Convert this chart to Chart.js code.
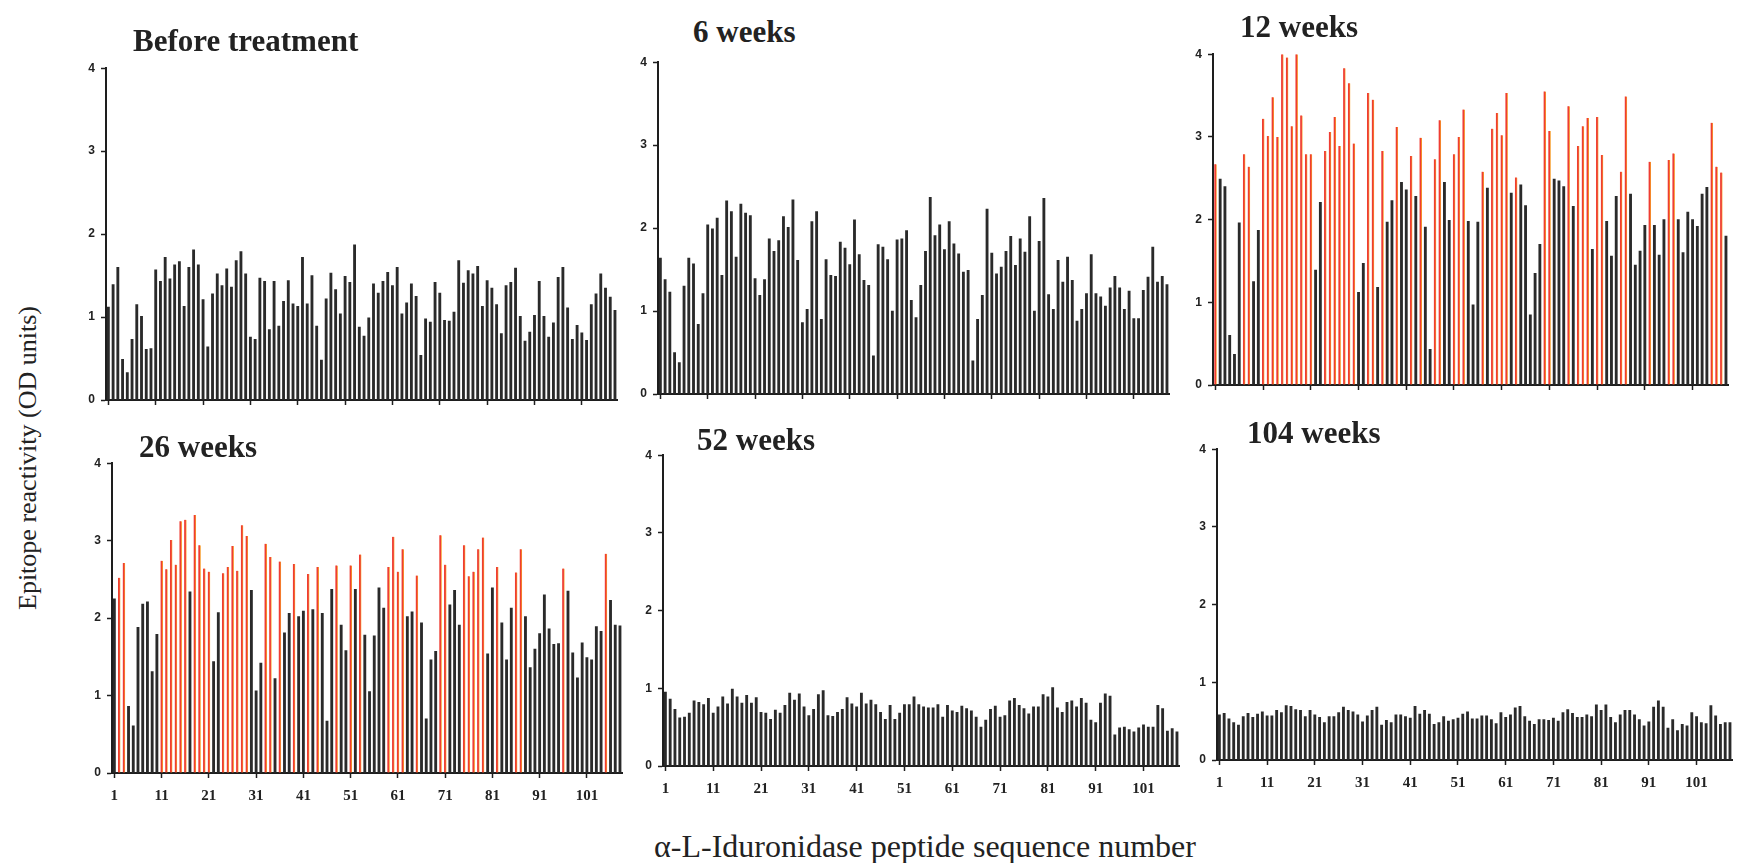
<!DOCTYPE html>
<html>
<head>
<meta charset="utf-8">
<title>Epitope reactivity</title>
<script src="https://cdn.jsdelivr.net/npm/chart.js@4.4.1/dist/chart.umd.min.js"></script>
<style>
  html, body { margin: 0; padding: 0; background: #fff; }
  body { width: 1738px; height: 863px; position: relative; overflow: hidden; font-family: "Liberation Serif", serif; color: #222; }
  canvas { position: absolute; }
  .title { position: absolute; font-weight: bold; font-size: 31px; line-height: 1; white-space: nowrap; }
  #ylab { position: absolute; left: 28px; top: 458px; font-size: 26px; white-space: nowrap;
          transform: translate(-50%, -50%) rotate(-90deg); }
  #xlab { position: absolute; left: 925px; top: 846px; font-size: 32px; white-space: nowrap;
          transform: translate(-50%, -50%); }
</style>
</head>
<body>
<canvas id="c0"></canvas><canvas id="c1"></canvas><canvas id="c2"></canvas>
<canvas id="c3"></canvas><canvas id="c4"></canvas><canvas id="c5"></canvas>
<div class="title" style="left:133px; top:25px;">Before treatment</div>
<div class="title" style="left:693px; top:16px;">6 weeks</div>
<div class="title" style="left:1240px; top:11px;">12 weeks</div>
<div class="title" style="left:139px; top:431px;">26 weeks</div>
<div class="title" style="left:697px; top:424px;">52 weeks</div>
<div class="title" style="left:1247px; top:417px;">104 weeks</div>
<div id="ylab">Epitope reactivity (OD units)</div>
<div id="xlab">α-L-Iduronidase peptide sequence number</div>
<script>
// peptide numbers 1..108 along every x axis
const peptides = Array.from({ length: 108 }, (_, i) => String(i + 1));

const beforeTreatment = [
  1.12, 1.39, 1.60, 0.49, 0.33, 0.73, 1.15, 1.01, 0.61, 0.62,
  1.57, 1.43, 1.72, 1.46, 1.63, 1.67, 1.13, 1.60, 1.81, 1.63,
  1.21, 0.64, 1.28, 1.52, 1.38, 1.58, 1.36, 1.68, 1.79, 1.52,
  0.76, 0.73, 1.47, 1.43, 0.85, 1.43, 0.89, 1.19, 1.44, 1.16,
  1.13, 1.72, 1.16, 1.50, 0.89, 0.48, 1.22, 1.53, 1.33, 1.04,
  1.49, 1.42, 1.87, 0.88, 0.77, 0.99, 1.40, 1.29, 1.43, 1.54,
  1.38, 1.60, 1.04, 1.17, 1.40, 1.25, 0.54, 0.98, 0.94, 1.42,
  1.29, 0.96, 0.95, 1.06, 1.68, 1.41, 1.56, 1.52, 1.61, 1.13,
  1.44, 1.35, 1.15, 0.80, 1.38, 1.42, 1.59, 1.01, 0.71, 0.82,
  1.02, 1.43, 1.01, 0.76, 0.93, 1.48, 1.60, 1.11, 0.73, 0.90,
  0.81, 0.72, 1.15, 1.28, 1.52, 1.35, 1.24, 1.08
];

const week6 = [
  1.64, 1.38, 1.23, 0.50, 0.38, 1.30, 1.64, 1.57, 0.84, 1.21,
  2.04, 1.99, 2.12, 1.43, 2.33, 2.20, 1.65, 2.29, 2.18, 2.15,
  1.39, 1.19, 1.38, 1.87, 1.72, 1.85, 2.14, 2.01, 2.34, 1.61,
  0.86, 1.02, 2.08, 2.20, 0.90, 1.62, 1.43, 1.42, 1.83, 1.76,
  1.56, 2.10, 1.68, 1.37, 1.31, 0.46, 1.80, 1.77, 1.62, 1.00,
  1.86, 1.87, 1.97, 1.13, 0.92, 1.31, 1.72, 2.37, 1.91, 2.04,
  1.74, 2.08, 1.81, 1.69, 1.47, 1.49, 0.40, 0.90, 1.19, 2.23,
  1.70, 1.45, 1.53, 1.72, 1.90, 1.55, 1.87, 1.71, 2.14, 1.00,
  1.84, 2.36, 1.20, 1.02, 1.61, 1.35, 1.65, 1.37, 0.88, 1.02,
  1.21, 1.68, 1.21, 1.17, 1.06, 1.28, 1.42, 1.28, 1.02, 1.24,
  0.91, 0.91, 1.25, 1.41, 1.77, 1.35, 1.42, 1.32
];

const week12 = [
  2.67, 2.49, 2.40, 0.60, 0.37, 1.96, 2.79, 2.64, 1.25, 1.87,
  3.22, 3.01, 3.48, 3.00, 4.00, 3.96, 3.13, 4.00, 3.26, 2.79,
  2.79, 1.39, 2.21, 2.83, 3.06, 3.24, 2.89, 3.83, 3.65, 2.92,
  1.12, 1.47, 3.53, 3.45, 1.18, 2.83, 1.97, 2.23, 3.12, 2.45,
  2.36, 2.77, 2.28, 2.99, 1.91, 0.43, 2.73, 3.20, 2.45, 1.99,
  2.79, 3.00, 3.33, 1.98, 0.97, 1.97, 2.58, 2.38, 3.10, 3.29,
  3.02, 3.53, 2.32, 2.51, 2.42, 2.17, 0.85, 1.35, 1.70, 3.55,
  3.07, 2.49, 2.47, 2.40, 3.37, 2.16, 2.89, 3.13, 3.23, 1.64,
  3.24, 2.78, 1.98, 1.56, 2.28, 2.58, 3.49, 2.31, 1.45, 1.62,
  1.93, 2.70, 1.93, 1.57, 2.00, 2.72, 2.80, 2.00, 1.60, 2.09,
  2.00, 1.92, 2.31, 2.39, 3.17, 2.64, 2.57, 1.80
];
// peptides above the reactivity cut-off (drawn in red)
const week12Reactive = [1, 7, 8, 11, 12, 13, 14, 15, 16, 17, 18, 19, 20, 21, 24, 25, 26, 27, 28, 29, 30,
  33, 34, 36, 39, 42, 44, 47, 48, 51, 52, 53, 57, 59, 60, 61, 62, 64, 70, 71, 75, 77, 78, 79,
  81, 82, 86, 87, 92, 96, 97, 105, 106, 107];

const week26 = [
  2.25, 2.52, 2.71, 0.86, 0.61, 1.88, 2.18, 2.21, 1.31, 1.79,
  2.74, 2.63, 3.01, 2.69, 3.25, 3.27, 2.34, 3.33, 2.94, 2.64,
  2.60, 1.44, 2.07, 2.58, 2.66, 2.93, 2.61, 3.20, 3.06, 2.36,
  1.06, 1.42, 2.96, 2.79, 1.22, 2.73, 1.81, 2.06, 2.70, 2.02,
  2.09, 2.57, 2.11, 2.66, 2.06, 0.67, 2.37, 2.68, 1.91, 1.58,
  2.68, 2.37, 2.82, 1.78, 1.05, 1.77, 2.39, 2.13, 2.66, 3.05,
  2.60, 2.89, 2.02, 2.08, 2.55, 1.94, 0.70, 1.46, 1.57, 3.07,
  2.69, 2.17, 2.36, 1.91, 2.94, 2.54, 2.60, 2.89, 3.04, 1.54,
  2.39, 2.66, 1.94, 1.46, 2.13, 2.59, 2.89, 2.02, 1.36, 1.60,
  1.80, 2.30, 1.86, 1.66, 1.67, 2.64, 2.35, 1.55, 1.23, 1.68,
  1.49, 1.46, 1.89, 1.83, 2.83, 2.23, 1.91, 1.90
];
const week26Reactive = [2, 3, 11, 12, 13, 14, 15, 16, 18, 19, 20, 21, 24, 25, 26, 27, 28, 29,
  33, 34, 36, 39, 42, 44, 48, 51, 53, 59, 60, 61, 62, 65, 70, 71, 75, 76, 77, 78, 79,
  82, 86, 87, 96, 105];

const week52 = [
  0.95, 0.86, 0.73, 0.62, 0.63, 0.68, 0.84, 0.82, 0.79, 0.87,
  0.68, 0.76, 0.89, 0.80, 0.99, 0.89, 0.81, 0.91, 0.81, 0.88,
  0.69, 0.68, 0.60, 0.72, 0.68, 0.78, 0.94, 0.85, 0.93, 0.76,
  0.65, 0.73, 0.92, 0.97, 0.65, 0.64, 0.69, 0.73, 0.88, 0.80,
  0.76, 0.94, 0.80, 0.85, 0.79, 0.69, 0.60, 0.78, 0.60, 0.68,
  0.79, 0.79, 0.89, 0.79, 0.76, 0.75, 0.75, 0.79, 0.63, 0.78,
  0.71, 0.69, 0.77, 0.74, 0.71, 0.63, 0.50, 0.59, 0.73, 0.77,
  0.63, 0.65, 0.84, 0.87, 0.78, 0.74, 0.67, 0.76, 0.76, 0.92,
  0.89, 1.01, 0.75, 0.69, 0.82, 0.84, 0.76, 0.87, 0.81, 0.59,
  0.56, 0.81, 0.93, 0.90, 0.40, 0.49, 0.50, 0.47, 0.44, 0.49,
  0.53, 0.50, 0.50, 0.78, 0.74, 0.45, 0.48, 0.44
];

const week104 = [
  0.58, 0.60, 0.53, 0.48, 0.45, 0.56, 0.60, 0.55, 0.59, 0.62,
  0.57, 0.57, 0.64, 0.61, 0.70, 0.69, 0.65, 0.64, 0.56, 0.64,
  0.58, 0.55, 0.48, 0.56, 0.56, 0.61, 0.68, 0.64, 0.62, 0.58,
  0.49, 0.57, 0.64, 0.68, 0.45, 0.51, 0.48, 0.58, 0.58, 0.56,
  0.54, 0.69, 0.59, 0.64, 0.59, 0.46, 0.48, 0.56, 0.50, 0.52,
  0.54, 0.59, 0.62, 0.53, 0.53, 0.57, 0.57, 0.52, 0.47, 0.61,
  0.55, 0.58, 0.67, 0.69, 0.56, 0.50, 0.46, 0.52, 0.52, 0.51,
  0.54, 0.50, 0.61, 0.65, 0.60, 0.55, 0.55, 0.58, 0.56, 0.71,
  0.64, 0.71, 0.55, 0.48, 0.58, 0.64, 0.64, 0.58, 0.52, 0.44,
  0.49, 0.68, 0.76, 0.68, 0.41, 0.52, 0.38, 0.46, 0.44, 0.61,
  0.56, 0.48, 0.47, 0.70, 0.57, 0.46, 0.48, 0.48
];

const yTicks = [0, 1, 2, 3, 4];

const BLACK = '#2a2a2a';
const RED = '#ef3d33';
const ORANGE = '#f6a02a';
const INK = '#1e1e1e';

// plot area of each panel on the page: left, top, right, bottom (y = 4 at top, y = 0 at bottom)
const panels = [
  { id: 'c0', values: beforeTreatment, reactive: [], box: [105.6, 66.7, 617.2, 400.0], labels: false },
  { id: 'c1', values: week6, reactive: [], box: [658.3, 60.7, 1169.8, 393.3], labels: false },
  { id: 'c2', values: week12, reactive: week12Reactive, box: [1212.6, 53.3, 1728.5, 385.7], labels: false },
  { id: 'c3', values: week26, reactive: week26Reactive, box: [111.9, 462.3, 623.2, 773.3], labels: true },
  { id: 'c4', values: week52, reactive: [], box: [663.3, 454.3, 1180.2, 766.7], labels: true },
  { id: 'c5', values: week104, reactive: [], box: [1216.9, 448.3, 1732.5, 760.0], labels: true }
];

const AXIS_W = 40, AXIS_H = 45, PAD_T = 12, PAD_R = 6;

function drawPanel(p) {
  const [l, t, r, b] = p.box;
  const cv = document.getElementById(p.id);
  const w = Math.round(r - l), h = Math.round(b - t);
  const cw = w + AXIS_W + PAD_R, ch = h + PAD_T + AXIS_H;
  cv.width = cw; cv.height = ch;
  cv.style.width = cw + 'px'; cv.style.height = ch + 'px';
  cv.style.left = Math.round(l - AXIS_W) + 'px';
  cv.style.top = Math.round(t - PAD_T) + 'px';

  const hot = p.values.map((v, i) => p.reactive.includes(i + 1));

  new Chart(cv, {
    type: 'bar',
    data: {
      labels: peptides,
      datasets: [{
        data: p.values,
        backgroundColor: hot.map(x => x ? RED : BLACK),
        borderColor: hot.map(x => x ? ORANGE : BLACK),
        borderWidth: hot.map(x => x ? { right: 0.8 } : 0),
        barThickness: 2.2
      }]
    },
    options: {
      responsive: false,
      animation: false,
      layout: { padding: { top: PAD_T, right: PAD_R, left: 0, bottom: 0 } },
      plugins: { legend: { display: false }, tooltip: { enabled: false } },
      scales: {
        x: {
          offset: true,
          border: { display: true, color: INK, width: 2 },
          grid: {
            drawOnChartArea: false, offset: false, tickLength: 5, tickWidth: 1.5,
            tickColor: c => (c.index % 10 === 0 ? INK : 'rgba(0,0,0,0)')
          },
          ticks: {
            autoSkip: false, maxRotation: 0, minRotation: 0, padding: 9, color: '#222',
            font: { family: 'Liberation Serif', weight: 'bold', size: 15 },
            callback: (v, i) => (p.labels && i % 10 === 0 ? peptides[i] : '')
          },
          afterFit: s => { s.height = AXIS_H; }
        },
        y: {
          min: yTicks[0], max: yTicks[yTicks.length - 1],
          border: { display: true, color: INK, width: 2 },
          grid: { drawOnChartArea: false, tickLength: 5, tickWidth: 1.5, tickColor: INK },
          afterBuildTicks: s => { s.ticks = yTicks.map(v => ({ value: v })); },
          ticks: {
            padding: 6, color: '#222',
            font: { family: 'Liberation Sans', weight: 'bold', size: 12 }
          },
          afterFit: s => { s.width = AXIS_W; }
        }
      }
    }
  });
}

panels.forEach(drawPanel);
</script>
</body>
</html>
